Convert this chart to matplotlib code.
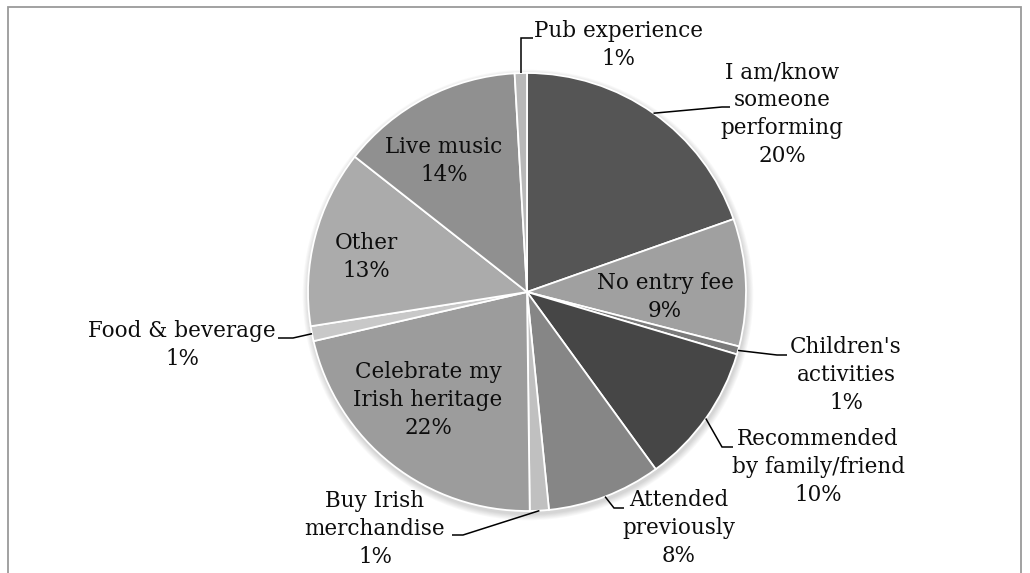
import matplotlib
matplotlib.use("Agg")
import matplotlib.pyplot as plt
from matplotlib.patches import Circle, Rectangle
import numpy as np

# Reasons for attending (share of respondents, %), clockwise from 12 o'clock
categories = [
    "I am/know\nsomeone\nperforming",
    "No entry fee",
    "Children's\nactivities",
    "Recommended\nby family/friend",
    "Attended\npreviously",
    "Buy Irish\nmerchandise",
    "Celebrate my\nIrish heritage",
    "Food & beverage",
    "Other",
    "Live music",
    "Pub experience",
]
shares = [19.6, 9.4, 0.6, 10.4, 8.4, 1.4, 21.6, 1.1, 13.1, 13.5, 0.9]

colors = ["#555555", "#a0a0a0", "#7a7a7a", "#464646", "#868686", "#c0c0c0",
          "#9c9c9c", "#c8c8c8", "#ababab", "#909090", "#b8b8b8"]

W, H = 1030, 573
fig = plt.figure(figsize=(W / 100, H / 100), dpi=100)
ax = fig.add_axes([0, 0, 1, 1])

# pixel-style coordinates: x to the right, y measured from the top edge
cx, cy, R = 527, 292, 219


def P(x, y):
    return x, H - y


# soft shadow under the pie
for k in range(7, 0, -1):
    ax.add_patch(Circle(P(cx + 1, cy + 3), R + k * 0.9, color="black",
                        alpha=0.025, lw=0, zorder=0))

wedges, _ = ax.pie(shares, colors=colors, startangle=90, counterclock=False,
                   center=P(cx, cy), radius=R,
                   wedgeprops=dict(edgecolor="white", linewidth=1.3))
ax.set_xlim(0, W)
ax.set_ylim(0, H)
ax.set_aspect("equal")
ax.axis("off")

# outer frame
ax.add_patch(Rectangle((8, -20), 1013, H - 7 + 20, fill=False,
                       edgecolor="#9a9a9a", lw=1.3, zorder=5))

font = dict(family="DejaVu Serif", size=15.5, color="#0d0d0d")

# label centres (x, y from top)
label_pos = {
    0: (782, 114),
    1: (665, 297),
    2: (846, 375),
    3: (818, 467),
    4: (679, 528),
    5: (375, 529),
    6: (428, 400),
    7: (182, 345),
    8: (366, 257),
    9: (444, 161),
    10: (618, 45),
}

# leader line bends (elbow, end) for labels placed outside the pie
leaders = {
    0: [(722, 107), (730, 107)],
    2: [(777, 355), (787, 355)],
    3: [(722, 447), (733, 447)],
    4: [(614, 508), (624, 508)],
    5: [(463, 535), (452, 535)],
    7: [(293, 338), (278, 338)],
    10: ["vertical", 38],
}

for i, (w, name, v) in enumerate(zip(wedges, categories, shares)):
    x, y = label_pos[i]
    ax.text(*P(x, y), f"{name}\n{round(v):.0f}%", ha="center", va="center",
            ma="center", linespacing=1.34, zorder=6, **font)
    if i in leaders:
        mid = np.deg2rad((w.theta1 + w.theta2) / 2)
        sx, sy = cx + R * np.cos(mid), cy - R * np.sin(mid)
        pts = leaders[i]
        if pts[0] == "vertical":
            ey = pts[1]
            path = [(sx, sy), (sx, ey), (sx + 12, ey)]
        else:
            path = [(sx, sy)] + pts
        xs = [p[0] for p in path]
        ys = [H - p[1] for p in path]
        ax.plot(xs, ys, color="black", lw=1.1, zorder=6,
                solid_capstyle="butt", solid_joinstyle="miter")

fig.savefig("out.png", dpi=100)
